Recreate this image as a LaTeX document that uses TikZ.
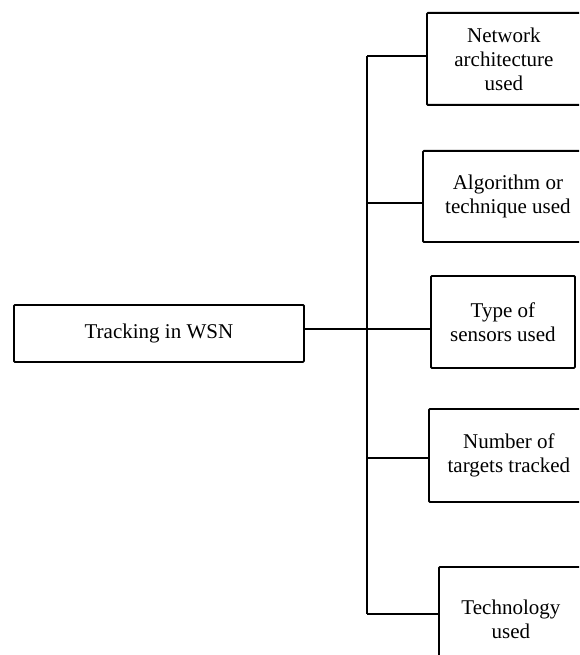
\documentclass[tikz,border=0pt]{standalone}
\usepackage{fontspec}
\setmainfont{Liberation Serif}
\begin{document}
\begin{tikzpicture}[x=1pt,y=-1pt,
  box/.style={draw,line width=1.8pt,rounded corners=1pt,anchor=north west,inner sep=0pt,align=center,
    font=\fontsize{21}{24}\selectfont},
  link/.style={line width=1.4pt},
  trunk/.style={line width=2.2pt}]
\useasboundingbox (0,0) rectangle (579,655);
\clip (0,0) rectangle (579,655);
\node[box,minimum width=290,minimum height=57] (m) at (13,304) {Tracking in WSN};
\node[box,minimum width=154,minimum height=92] (a) at (426,12) {Network\\architecture\\used};
\node[box,minimum width=170,minimum height=91] (b) at (422,150) {Algorithm or\\technique used};
\node[box,minimum width=144,minimum height=92] (c) at (430,275) {Type of\\sensors used};
\node[box,minimum width=160,minimum height=93] (d) at (428,408) {Number of\\targets tracked};
\node[box,minimum width=144,minimum height=104] (e) at (438,566) {Technology\\used};
\coordinate (ta) at (367,56);
\coordinate (tb) at (367,203);
\coordinate (tc) at (367,329);
\coordinate (td) at (367,458);
\coordinate (te) at (367,614);
\draw[trunk] (ta) -- (te);
\draw[link] (m.east |- tc) -- (tc);
\draw[trunk] (ta) -- (ta -| a.west);
\draw[trunk] (tb) -- (tb -| b.west);
\draw[link] (tc) -- (tc -| c.west);
\draw[trunk] (td) -- (td -| d.west);
\draw[trunk] (te) -- (te -| e.west);
\end{tikzpicture}
\end{document}
